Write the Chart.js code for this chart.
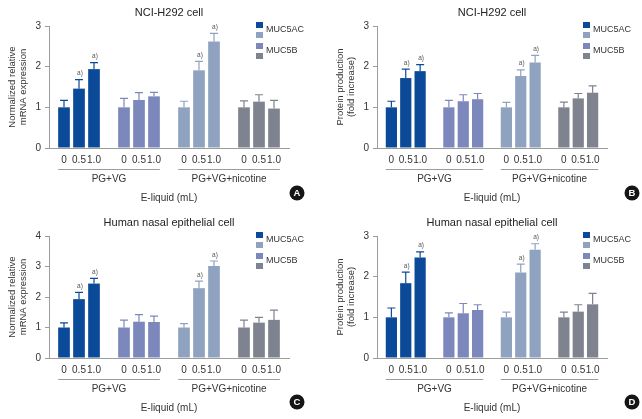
<!DOCTYPE html>
<html><head><meta charset="utf-8">
<script src="https://cdn.jsdelivr.net/npm/chart.js@4.4.0/dist/chart.umd.min.js"></script>
<style>
html,body{margin:0;padding:0;background:#fff;}
#wrap{position:relative;width:642px;height:419px;overflow:hidden;background:#fff;}
canvas{position:absolute;}
</style></head><body>
<div id="wrap">
<canvas id="cA" width="320" height="210" style="left:0;top:0"></canvas>
<canvas id="cB" width="322" height="210" style="left:320px;top:0"></canvas>
<canvas id="cC" width="320" height="209" style="left:0;top:210px"></canvas>
<canvas id="cD" width="322" height="209" style="left:320px;top:210px"></canvas>
</div>
<script>
// ---------------- data ----------------
const doseLabels = ['0', '0.5', '1.0'];
const groupLabels = ['PG+VG', 'PG+VG+nicotine'];
const seriesLabels = ['MUC5AC', 'MUC5B'];
const xAxisTitle = 'E-liquid (mL)';
const titleH292 = 'NCI-H292 cell';
const titleNasal = 'Human nasal epithelial cell';
const yTitleMrna = ['Normalized relative', 'mRNA expression'];
const yTitleProtein = ['Protein production', '(fold increase)'];

// bar order: MUC5AC PG+VG (0,0.5,1.0) | MUC5B PG+VG | MUC5AC PG+VG+nicotine | MUC5B PG+VG+nicotine
const h292MrnaMeans  = [1.00, 1.46, 1.94,  1.00, 1.18, 1.27,  1.00, 1.91, 2.62,  1.00, 1.14, 0.97];
const h292MrnaErrors = [0.17, 0.22, 0.16,  0.22, 0.18, 0.10,  0.15, 0.22, 0.20,  0.16, 0.17, 0.20];

const h292ProtMeans  = [1.00, 1.72, 1.89,  1.00, 1.15, 1.20,  1.00, 1.77, 2.10,  1.00, 1.22, 1.36];
const h292ProtErrors = [0.15, 0.22, 0.16,  0.17, 0.16, 0.14,  0.12, 0.15, 0.18,  0.13, 0.12, 0.17];

const nasalMrnaMeans  = [1.00, 1.93, 2.44,  1.00, 1.19, 1.18,  1.00, 2.29, 3.02,  1.00, 1.16, 1.25];
const nasalMrnaErrors = [0.15, 0.22, 0.17,  0.24, 0.23, 0.19,  0.13, 0.23, 0.16,  0.24, 0.17, 0.32];

const nasalProtMeans  = [1.00, 1.84, 2.47,  1.00, 1.10, 1.18,  1.00, 2.10, 2.66,  1.00, 1.14, 1.32];
const nasalProtErrors = [0.23, 0.27, 0.14,  0.11, 0.24, 0.13,  0.13, 0.21, 0.15,  0.13, 0.17, 0.27];

const significant = [false, true, true,  false, false, false,  false, true, true,  false, false, false];
const sigMark = 'a)';

// ---------------- styles ----------------
const FONT = '"Liberation Sans", Arial, Helvetica, sans-serif';
const blockColors = ['#0b4a98', '#7c88bc', '#8fa3c0', '#7f838f']; // per block of 3 bars
const legendColors = [['#0b4a98', '#8fa3c0'], ['#7c88bc', '#7f838f']];
const axisColor = '#9c9c9c';
const textColor = '#333333';

// build padded category slots: blank, 3 bars, blank, 3 bars, ... blank
function slots(arr) {
  const out = [null];
  for (let g = 0; g < 4; g++) {
    if (g > 0) out.push(null);
    for (let d = 0; d < 3; d++) out.push(arr[g * 3 + d]);
  }
  out.push(null);
  return out;
}
const barIndexBySlot = slots([0,1,2,3,4,5,6,7,8,9,10,11]);
const slotLabels = slots([].concat(doseLabels, doseLabels, doseLabels, doseLabels)).map(v => v === null ? '' : v);
const barColorList = [];
blockColors.forEach(c => { for (let d = 0; d < 3; d++) barColorList.push(c); });

const decor = {
  id: 'decor',
  afterDraw(chart, args, opts) {
    const p = opts.panel;
    const {ctx, chartArea: ca, scales: {y}} = chart;
    const meta = chart.getDatasetMeta(0);
    ctx.save();
    // error bars + significance marks
    meta.data.forEach((bar, s) => {
      const k = barIndexBySlot[s];
      if (k === null) return;
      const mean = p.means[k], err = p.errors[k];
      const yBar = y.getPixelForValue(mean);
      const yTop = y.getPixelForValue(mean + err);
      ctx.strokeStyle = barColorList[k];
      ctx.lineWidth = 1.2;
      ctx.beginPath();
      ctx.moveTo(bar.x, yBar);
      ctx.lineTo(bar.x, yTop);
      ctx.moveTo(bar.x - 4, yTop);
      ctx.lineTo(bar.x + 4, yTop);
      ctx.stroke();
      if (significant[k]) {
        ctx.fillStyle = '#555';
        ctx.font = '6.5px ' + FONT;
        ctx.textAlign = 'center';
        ctx.textBaseline = 'bottom';
        ctx.fillText(sigMark, bar.x + 1, yTop - 3);
      }
    });
    // group underline + labels
    const bars = [];
    meta.data.forEach((bar, s) => { if (barIndexBySlot[s] !== null) bars.push(bar); });
    [[0, 5], [6, 11]].forEach((rng, gi) => {
      const b0 = bars[rng[0]], b1 = bars[rng[1]];
      const x0 = b0.x - b0.width / 2, x1 = b1.x + b1.width / 2;
      const yl = ca.bottom + 21;
      ctx.strokeStyle = axisColor;
      ctx.lineWidth = 1;
      ctx.beginPath();
      ctx.moveTo(x0, yl + 0.5);
      ctx.lineTo(x1, yl + 0.5);
      ctx.stroke();
      ctx.fillStyle = textColor;
      ctx.font = '10px ' + FONT;
      ctx.textAlign = 'center';
      ctx.textBaseline = 'middle';
      ctx.fillText(groupLabels[gi], (x0 + x1) / 2, ca.bottom + 31);
    });
    // x axis title
    const cx = (ca.left + ca.right) / 2;
    ctx.fillStyle = textColor;
    ctx.font = '10px ' + FONT;
    ctx.textAlign = 'center';
    ctx.textBaseline = 'middle';
    ctx.fillText(xAxisTitle, cx, p.xTitleY);
    // chart title
    ctx.font = '11px ' + FONT;
    ctx.fillStyle = '#222';
    ctx.fillText(p.title, cx, p.titleY);
    // legend
    ctx.font = '9px ' + FONT;
    ctx.textAlign = 'left';
    seriesLabels.forEach((name, i) => {
      const top = p.legendY + i * 21;
      ctx.fillStyle = legendColors[i][0];
      ctx.fillRect(p.legendX, top, 7, 6);
      ctx.fillStyle = legendColors[i][1];
      ctx.fillRect(p.legendX, top + 10, 7, 6);
      ctx.fillStyle = textColor;
      ctx.fillText(name, p.legendX + 10, top + 8);
    });
    // panel letter
    ctx.fillStyle = '#151515';
    ctx.beginPath();
    ctx.arc(p.letterX, p.letterY, 7.5, 0, Math.PI * 2);
    ctx.fill();
    ctx.fillStyle = '#fff';
    ctx.font = 'bold 9.5px ' + FONT;
    ctx.textAlign = 'center';
    ctx.textBaseline = 'middle';
    ctx.fillText(p.letter, p.letterX, p.letterY + 0.5);
    ctx.restore();
  }
};

const panels = [
  {id: 'cA', title: titleH292, yTitle: yTitleMrna, max: 3, means: h292MrnaMeans, errors: h292MrnaErrors, letter: 'A',
   padL: 0, padR: 31, yW: 49, xH: 62, titleY: 13, xTitleY: 198, legendX: 256, legendY: 22, letterX: 297, letterY: 193},
  {id: 'cB', title: titleH292, yTitle: yTitleProtein, max: 3, means: h292ProtMeans, errors: h292ProtErrors, letter: 'B',
   padL: 8, padR: 35, yW: 49, xH: 62, titleY: 13, xTitleY: 198, legendX: 263, legendY: 22, letterX: 312, letterY: 193},
  {id: 'cC', title: titleNasal, yTitle: yTitleMrna, max: 4, means: nasalMrnaMeans, errors: nasalMrnaErrors, letter: 'C',
   padL: 0, padR: 31, yW: 49, xH: 61, titleY: 13, xTitleY: 198, legendX: 256, legendY: 22, letterX: 297, letterY: 192},
  {id: 'cD', title: titleNasal, yTitle: yTitleProtein, max: 3, means: nasalProtMeans, errors: nasalProtErrors, letter: 'D',
   padL: 8, padR: 35, yW: 49, xH: 61, titleY: 13, xTitleY: 198, legendX: 263, legendY: 22, letterX: 312, letterY: 192}
];

panels.forEach(p => {
  new Chart(document.getElementById(p.id), {
    type: 'bar',
    data: {
      labels: slotLabels,
      datasets: [{
        data: slots(p.means),
        backgroundColor: slots(barColorList),
        barPercentage: 0.78,
        categoryPercentage: 1.0,
        borderWidth: 0
      }]
    },
    options: {
      responsive: false,
      animation: false,
      devicePixelRatio: 1,
      layout: {padding: {left: p.padL, top: 26, right: p.padR, bottom: 0}},
      plugins: {legend: {display: false}, tooltip: {enabled: false}, title: {display: false}, decor: {panel: p}},
      scales: {
        x: {
          type: 'category',
          offset: false,
          grid: {display: false, drawTicks: false},
          border: {display: true, color: axisColor, width: 1},
          ticks: {autoSkip: false, maxRotation: 0, minRotation: 0, padding: 6, color: textColor, font: {family: FONT, size: 10}},
          afterFit(s) { s.height = p.xH; }
        },
        y: {
          min: 0, max: p.max,
          ticks: {stepSize: 1, padding: 4, color: textColor, font: {family: FONT, size: 10}},
          grid: {drawOnChartArea: false, drawTicks: true, tickLength: 4, color: axisColor},
          border: {display: true, color: axisColor, width: 1},
          title: {display: true, text: p.yTitle, color: textColor, font: {family: FONT, size: 9.5, lineHeight: 1.25}, padding: {top: 6, bottom: 0}},
          afterFit(s) { s.width = p.yW; }
        }
      }
    },
    plugins: [decor]
  });
});
</script>
</body></html>
